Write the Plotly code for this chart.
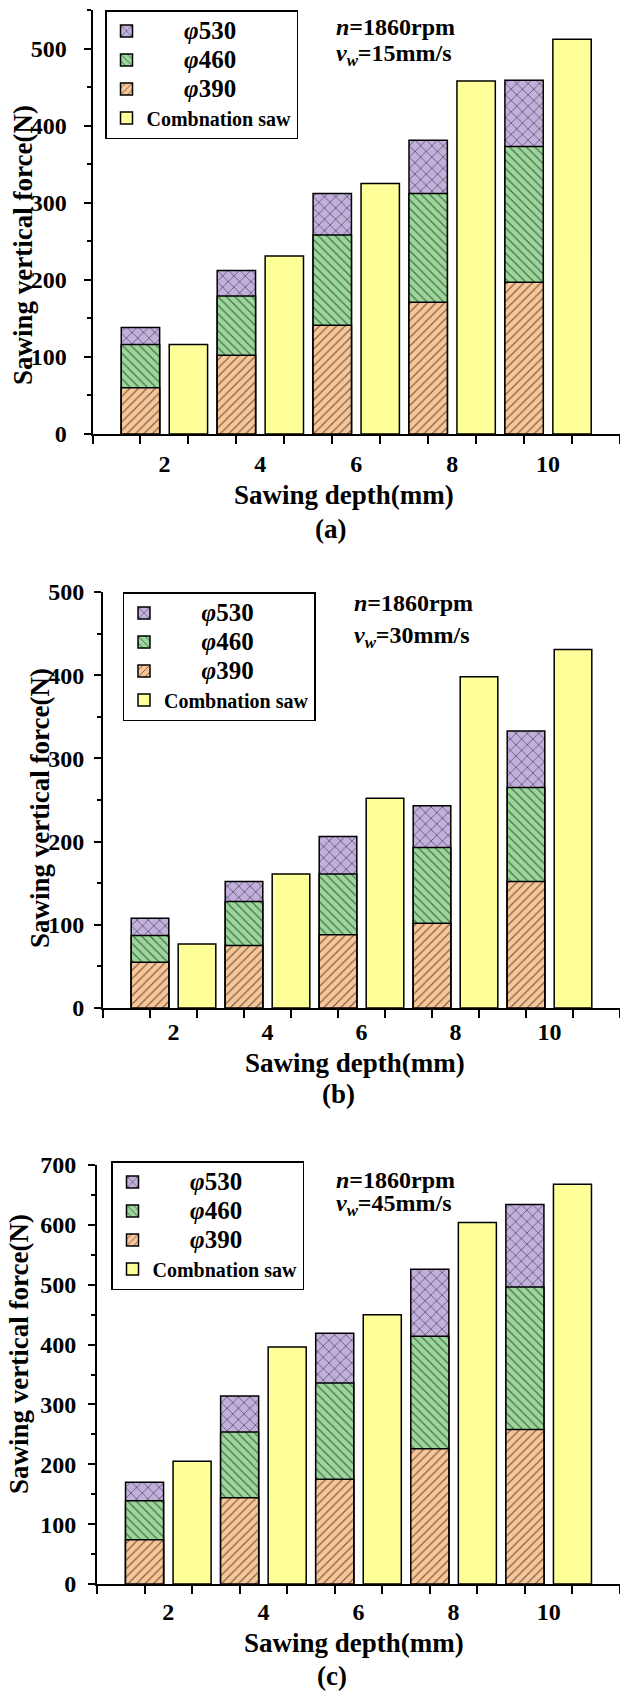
import plotly.graph_objects as go

W, H = 620, 1692
FONT = "Liberation Serif"

# ---- data (force in N) ----
depths = [2, 4, 6, 8, 10]
depth_labels = ["2", "4", "6", "8", "10"]
series_names = ["φ530", "φ460", "φ390", "Combnation saw"]

a_530 = [138, 212, 312, 381, 459]
a_460 = [116, 179, 258, 312, 373]
a_390 = [60, 102, 141, 171, 197]
a_comb = [116, 231, 325, 458, 512]

b_530 = [108, 152, 206, 243, 333]
b_460 = [87, 128, 161, 193, 265]
b_390 = [55, 75, 88, 102, 152]
b_comb = [77, 161, 252, 398, 431]

c_530 = [170, 314, 419, 526, 634]
c_460 = [139, 254, 336, 414, 496]
c_390 = [74, 144, 175, 226, 258]
c_comb = [205, 396, 450, 604, 668]

speeds = ["15", "30", "45"]
panel_tags = ["(a)", "(b)", "(c)"]

COL = {"φ530": "#C2B0DC", "φ460": "#9BD79B", "φ390": "#F9C698", "Combnation saw": "#FFFF99"}
PAT = {"φ530": "x", "φ460": "\\", "φ390": "/", "Combnation saw": ""}
PSIZE = {"φ530": 8, "φ460": 6, "φ390": 6, "Combnation saw": 8}


def fx(px):
    return px / W


def fy(py):
    return 1 - py / H


# panel geometry in pixels
panels = [
    dict(x0=92.5, top=10, bottom=434, ymax=550, data=[a_530, a_460, a_390, a_comb],
         legend=(105, 10), note=(334, 27, 55), xt=(344, 495), yt=(23, 245), tag=(330, 529),
         ystand=12, xstand=7),
    dict(x0=103, top=592, bottom=1008, ymax=500, data=[b_530, b_460, b_390, b_comb],
         legend=(122.5, 592), note=(352, 603, 637), xt=(355, 1063), yt=(40, 808), tag=(338, 1094),
         ystand=5, xstand=1),
    dict(x0=97, top=1165, bottom=1584, ymax=700, data=[c_530, c_460, c_390, c_comb],
         legend=(111, 1161), note=(334, 1180, 1205), xt=(354, 1643), yt=(19, 1354), tag=(332, 1676),
         ystand=7, xstand=5),
]

fig = go.Figure()
annotations = []
layout = dict(width=W, height=H, margin=dict(l=0, r=0, t=0, b=0),
              paper_bgcolor="white", plot_bgcolor="white", barmode="overlay",
              showlegend=True)

for i, p in enumerate(panels):
    sfx = "" if i == 0 else str(i + 1)
    xa, ya = "x" + sfx, "y" + sfx
    leg = "legend" + sfx
    for name, vals in zip(series_names, p["data"]):
        if name == "Combnation saw":
            xs = [d for d in depths]
            label = '<span style="font-size:20px">' + name + "</span>"
        else:
            xs = [d - 1 for d in depths]
            label = '<span style="font-size:25px">' + "\u00a0" * 6 + "<i>φ</i>" + name[1:] + "</span>"
        fig.add_trace(go.Bar(
            x=xs, y=vals, width=0.8, name=label, xaxis=xa, yaxis=ya, legend=leg,
            marker=dict(color=COL[name], line=dict(color="black", width=1.5),
                        pattern=dict(shape=PAT[name], fgcolor="black", bgcolor=COL[name],
                                     size=PSIZE[name], solidity=0.2)),
            opacity=1, showlegend=True,
        ))

    layout["xaxis" + sfx] = dict(
        domain=[fx(p["x0"]), 1], range=[0, 11], anchor=ya,
        tickmode="array", tickvals=[d - 0.5 for d in depths], ticktext=depth_labels,
        ticks="", ticklabelstandoff=p["xstand"],
        tickfont=dict(family=FONT, size=24, color="black", weight="bold"),
        minor=dict(tickmode="linear", tick0=0, dtick=1, ticks="outside", ticklen=8,
                   tickwidth=2, tickcolor="black"),
        showline=True, linecolor="black", linewidth=2, showgrid=False, zeroline=False,
        automargin=False,
    )
    layout["yaxis" + sfx] = dict(
        domain=[fy(p["bottom"]), fy(p["top"])], range=[0, p["ymax"]], anchor=xa,
        tickmode="linear", tick0=0, dtick=100, ticks="outside", ticklen=7, tickwidth=2,
        tickcolor="black", ticklabelstandoff=p["ystand"],
        tickfont=dict(family=FONT, size=24, color="black", weight="bold"),
        minor=dict(tickmode="linear", tick0=0, dtick=50, ticks="outside", ticklen=4,
                   tickwidth=2, tickcolor="black"),
        showline=True, linecolor="black", linewidth=2, showgrid=False, zeroline=False,
        automargin=False,
    )
    lx, ly = p["legend"]
    layout[leg] = dict(
        x=fx(lx), y=fy(ly), xanchor="left", yanchor="top", xref="paper", yref="paper",
        bgcolor="white", bordercolor="black", borderwidth=1.5,
        font=dict(family=FONT, size=20, color="black", weight="bold"),
        traceorder="normal", tracegroupgap=0, itemwidth=30,
    )

    nx, ny1, ny2 = p["note"]
    annotations.append(dict(text="<i>n</i>=1860rpm", x=fx(nx), y=fy(ny1), xref="paper", yref="paper",
                            xanchor="left", yanchor="middle", showarrow=False,
                            font=dict(family=FONT, size=24, color="black", weight="bold")))
    annotations.append(dict(text="<i>v</i><sub><i>w</i></sub>=" + speeds[i] + "mm/s", x=fx(nx), y=fy(ny2),
                            xref="paper", yref="paper", xanchor="left", yanchor="middle", showarrow=False,
                            font=dict(family=FONT, size=24, color="black", weight="bold")))
    tx, ty = p["xt"]
    annotations.append(dict(text="Sawing depth(mm)", x=fx(tx), y=fy(ty), xref="paper", yref="paper",
                            xanchor="center", yanchor="middle", showarrow=False,
                            font=dict(family=FONT, size=27, color="black", weight="bold")))
    yx, yy = p["yt"]
    annotations.append(dict(text="Sawing vertical force(N)", x=fx(yx), y=fy(yy), xref="paper", yref="paper",
                            xanchor="center", yanchor="middle", showarrow=False, textangle=-90,
                            font=dict(family=FONT, size=27, color="black", weight="bold")))
    gx, gy = p["tag"]
    annotations.append(dict(text=panel_tags[i], x=fx(gx), y=fy(gy), xref="paper", yref="paper",
                            xanchor="center", yanchor="middle", showarrow=False,
                            font=dict(family=FONT, size=27, color="black", weight="bold")))

layout["annotations"] = annotations
fig.update_layout(**layout)
fig.write_html("out.html")
